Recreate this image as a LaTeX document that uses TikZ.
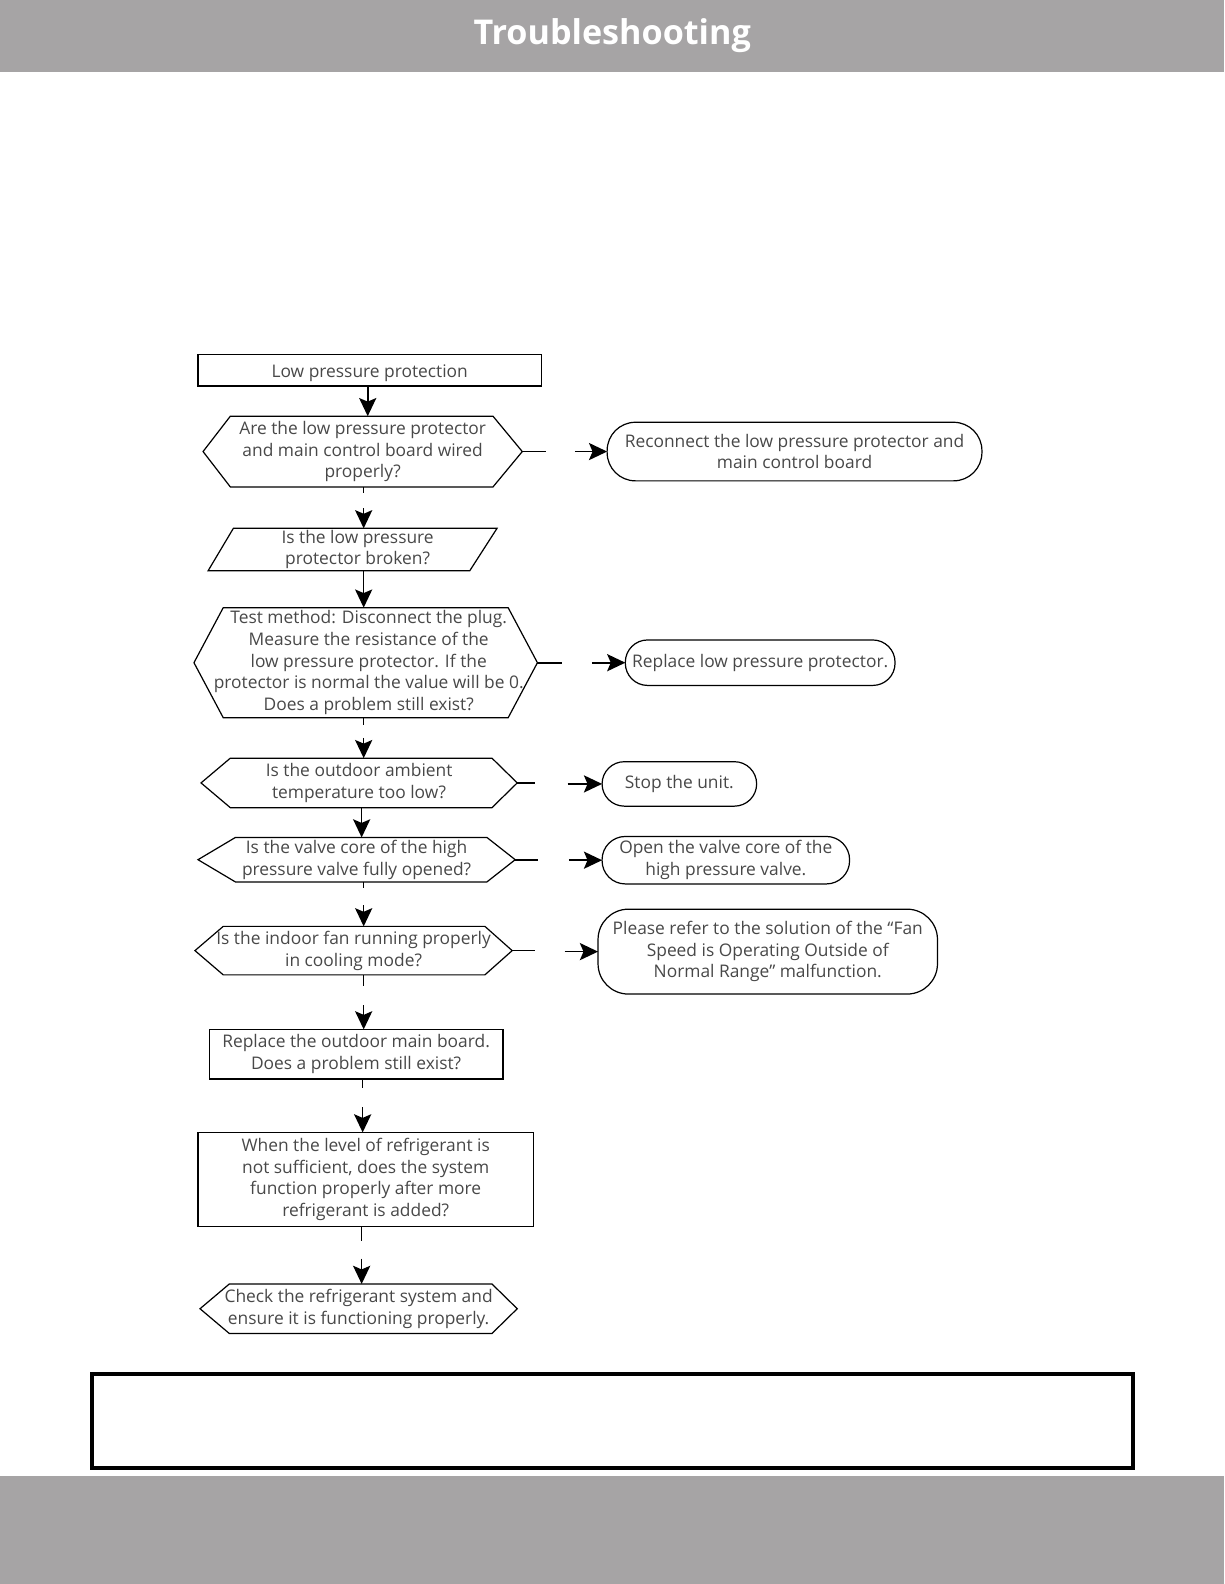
\documentclass[tikz,border=0pt]{standalone}
\usepackage{fontspec}
\setmainfont{Open Sans}
\usetikzlibrary{arrows.meta,calc}
\definecolor{bandgray}{RGB}{166,164,165}
\definecolor{txt}{RGB}{72,72,72}
\newcommand\hexo[3]{\draw[shapeline] (#1.west) -- ([xshift=#2]#1.north west) -- ([xshift=-#3]#1.north east) -- (#1.east) -- ([xshift=-#3]#1.south east) -- ([xshift=#2]#1.south west) -- cycle;}
\begin{document}
\begin{tikzpicture}[x=0.5pt,y=-0.5pt,
  base/.style={font=\fontsize{8.6}{10.75}\selectfont, text=txt, align=center, inner sep=0pt, outer sep=0pt},
  shapeline/.style={draw=black, line width=0.6pt},
  rectbox/.style 2 args={base, shapeline, minimum width=#1, minimum height=#2},
  hexbox/.style 2 args={base, draw=none, minimum width=#1, minimum height=#2},
  term/.style n args={3}{base, shapeline, rounded corners=#3, minimum width=#1, minimum height=#2},
  conn/.style={draw=black, line width=0.8pt},
  arr/.style={conn, -{Stealth[length=9pt,width=8.5pt,inset=1.8pt]}},
  title/.style={font=\fontsize{16.9}{20}\selectfont\bfseries, text=white, inner sep=0pt}
]
\useasboundingbox (0,0) rectangle (1212,1568);
% header and footer bands
\fill[bandgray] (0,0) rectangle (1212,71);
\node[title] (ttl) at (606,35) {Troubleshooting};
\fill[bandgray] (0,1461) rectangle (1212,1568);
\draw[line width=2pt] (91,1360) rectangle (1122,1453);

% nodes
\node[rectbox={170pt}{15.5pt}, text height=7.4pt, text depth=0pt] (s) at (366,366.5) {Low pressure protection};
\node[hexbox={158pt}{35pt}] (h1) at (359,447) {Are the low pressure protector\\and main control board wired\\properly?};
\hexo{h1}{13.5pt}{14.5pt}
\node[term={185.5pt}{29pt}{14pt}] (r1) at (786.5,447) {Reconnect the low pressure protector and\\main control board};
\node[hexbox={143pt}{21pt}] (p1) at (349,544) {\hspace*{5pt}Is the low pressure\\\hspace*{5pt}protector broken?};
\draw[shapeline] (p1.south west) -- ([xshift=12.5pt]p1.north west) -- (p1.north east) -- ([xshift=-13.5pt]p1.south east) -- cycle;
\node[hexbox={170pt}{54.5pt}] (t1) at (362,656) {\hspace*{3pt}Test method: Disconnect the plug.\\\hspace*{3pt}Measure the resistance of the\\\hspace*{3pt}low pressure protector. If the\\\hspace*{3pt}protector is normal the value will be 0.\\\hspace*{3pt}Does a problem still exist?};
\hexo{t1}{14.5pt}{14.5pt}
\node[term={133.5pt}{22.5pt}{11pt}] (r2) at (752.5,656) {Replace low pressure protector.};
\node[hexbox={156.5pt}{24.5pt}] (h2) at (355.5,775) {Is the outdoor ambient\\temperature too low?};
\hexo{h2}{14.5pt}{12.5pt}
\node[term={76.5pt}{22pt}{11pt}] (r3) at (672.5,776) {Stop the unit.};
\node[hexbox={157pt}{22pt}] (h3) at (353,851) {Is the valve core of the high\\pressure valve fully opened?};
\hexo{h3}{18.5pt}{14pt}
\node[term={122.5pt}{23.5pt}{11.5pt}] (r4) at (718.5,851.5) {Open the valve core of the\\high pressure valve.};
\node[hexbox={157pt}{24pt}] (h4) at (350,941) {Is the indoor fan running properly\\in cooling mode?};
\hexo{h4}{14pt}{13.5pt}
\node[term={168pt}{42pt}{15pt}] (r5) at (760,942) {Please refer to the solution of the ``Fan\\Speed is Operating Outside of\\Normal Range'' malfunction.};
\node[rectbox={145.5pt}{24.5pt}] (b1) at (352.5,1043.5) {Replace the outdoor main board.\\Does a problem still exist?};
\node[rectbox={166pt}{46.5pt}] (b2) at (362,1167.5) {When the level of refrigerant is\\not sufficient, does the system\\function properly after more\\refrigerant is added?};
\node[hexbox={157pt}{24.5pt}] (h5) at (355,1295.5) {Check the refrigerant system and\\ensure it is functioning properly.};
\hexo{h5}{14.5pt}{12.5pt}

% x positions of vertical connectors
\coordinate (x364) at (364,0);
\coordinate (x360) at (360,0);
\coordinate (x359) at (359,0);
\coordinate (x358) at (358,0);

% connectors
\draw[arr] (s.south -| x364) -- (h1.north -| x364);
\draw[conn] (h1.east) -- ++(23,0);
\draw[arr] ($(r1.west)+(-32,0)$) -- (r1.west);
\draw[conn] (h1.south -| x360) -- ++(0,6);
\draw[arr] ($(p1.north -| x360)+(0,-20)$) -- (p1.north -| x360);
\draw[arr] (p1.south -| x360) -- (t1.north -| x360);
\draw[conn] (t1.east) -- ++(24,0);
\draw[arr] ($(r2.west)+(-33,0)$) -- (r2.west);
\draw[conn] (t1.south -| x360) -- ++(0,7);
\draw[arr] ($(h2.north -| x360)+(0,-20)$) -- (h2.north -| x360);
\draw[conn] (h2.east) -- ++(18,0);
\draw[arr] ($(r3.west)+(-34,0)$) -- (r3.west);
\draw[arr] (h2.south -| x358) -- (h3.north -| x358);
\draw[conn] (h3.east) -- ++(23,0);
\draw[arr] ($(r4.west)+(-33,0)$) -- (r4.west);
\draw[conn] (h3.south -| x360) -- ++(0,6);
\draw[arr] ($(h4.north -| x360)+(0,-21)$) -- (h4.north -| x360);
\draw[conn] (h4.east) -- ++(23,0);
\draw[arr] ($(r5.west)+(-33,0)$) -- (r5.west);
\draw[conn] (h4.south -| x360) -- ++(0,11);
\draw[arr] ($(b1.north -| x360)+(0,-24)$) -- (b1.north -| x360);
\draw[conn] (b1.south -| x359) -- ++(0,9);
\draw[arr] ($(b2.north -| x359)+(0,-25)$) -- (b2.north -| x359);
\draw[conn] (b2.south -| x358) -- ++(0,14);
\draw[arr] ($(h5.north -| x358)+(0,-25)$) -- (h5.north -| x358);
\end{tikzpicture}
\end{document}
